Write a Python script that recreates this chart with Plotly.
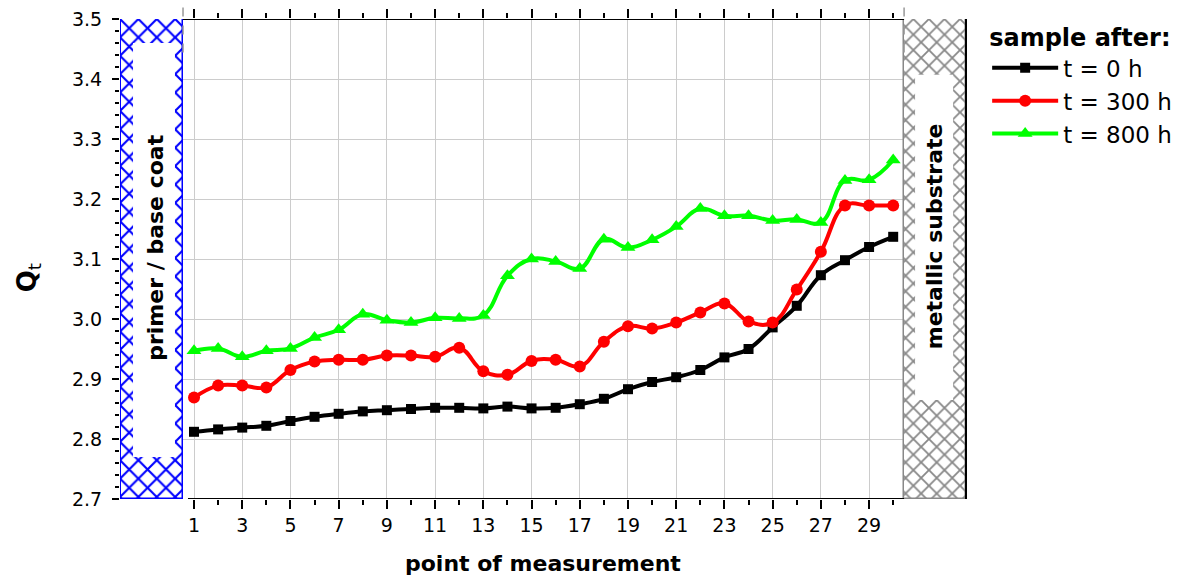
import plotly.graph_objects as go

# ---------------- data ----------------
points = list(range(1, 31))
t0_h = [2.812, 2.816, 2.819, 2.822, 2.830, 2.837, 2.842, 2.846, 2.848, 2.850,
        2.852, 2.852, 2.851, 2.854, 2.851, 2.852, 2.858, 2.867, 2.883, 2.895,
        2.903, 2.915, 2.936, 2.950, 2.986, 3.022, 3.073, 3.098, 3.120, 3.137]
t300_h = [2.869, 2.889, 2.889, 2.886, 2.915, 2.929, 2.932, 2.932, 2.939, 2.939,
          2.937, 2.952, 2.913, 2.907, 2.930, 2.932, 2.921, 2.962, 2.988, 2.984,
          2.994, 3.011, 3.026, 2.996, 2.994, 3.049, 3.112, 3.189, 3.189, 3.189]
t800_h = [2.947, 2.951, 2.937, 2.947, 2.951, 2.969, 2.982, 3.008, 2.998, 2.994,
          3.002, 3.001, 3.006, 3.072, 3.100, 3.096, 3.084, 3.133, 3.119, 3.132,
          3.154, 3.184, 3.172, 3.172, 3.164, 3.166, 3.161, 3.231, 3.232, 3.265]
series_names = ["t = 0 h", "t = 300 h", "t = 800 h"]
x_tick_vals = list(range(1, 30, 2))
x_minor_vals = list(range(2, 31, 2))
top_marks = [1, 2, 3, 4, 5]
zone_labels = ["primer / base coat", "metallic substrate"]
x_title = "point of measurement"
y_title = "<b>Q</b><sub>t</sub>"

# ---------------- layout geometry ----------------
X_RANGE = [-2.07, 33.02]
Y_RANGE = [2.7, 3.5]
primer_zone = (-2.03, 0.544)
primer_inner = (-1.53, 0.21, 2.770, 3.46)
metal_zone = (30.452, 33.0)
metal_inner = (30.908, 32.485, 2.865, 3.407)

FONT = "DejaVu Sans"

fig = go.Figure()

# hatched zones (bars with pattern)
fig.add_trace(go.Bar(
    x=[(primer_zone[0] + primer_zone[1]) / 2], y=[Y_RANGE[1] - Y_RANGE[0]],
    base=[Y_RANGE[0]], width=[primer_zone[1] - primer_zone[0]],
    marker=dict(color="white", line=dict(color="#0000ff", width=1.5),
                pattern=dict(shape="x", fgcolor="#0000ff", bgcolor="white",
                             fgopacity=1, size=13, solidity=0.3)),
    showlegend=False, hoverinfo="skip", cliponaxis=False))
fig.add_trace(go.Bar(
    x=[(metal_zone[0] + metal_zone[1]) / 2], y=[Y_RANGE[1] - Y_RANGE[0]],
    base=[Y_RANGE[0]], width=[metal_zone[1] - metal_zone[0]],
    marker=dict(color="white", line=dict(color="#888888", width=1.5),
                pattern=dict(shape="x", fgcolor="#888888", bgcolor="white",
                             fgopacity=1, size=11, solidity=0.3)),
    showlegend=False, hoverinfo="skip", cliponaxis=False))

styles = [("#000000", "square", 10), ("#ff0000", "circle", 12), ("#00ff00", "triangle-up", 13)]
for name, vals, (col, sym, sz) in zip(series_names, [t0_h, t300_h, t800_h], styles):
    fig.add_trace(go.Scatter(
        x=points, y=vals, name=name, mode="lines+markers",
        line=dict(color=col, width=4, shape="spline", smoothing=1.2),
        marker=dict(color=col, symbol=sym, size=sz),
        cliponaxis=False))

# small marks above the frame
fig.add_trace(go.Scatter(
    x=top_marks, y=[3.524] * len(top_marks), mode="markers",
    marker=dict(symbol="triangle-down", size=8, color="black"),
    showlegend=False, cliponaxis=False, hoverinfo="skip"))

shapes = [
    # inner white panels
    dict(type="rect", xref="x", yref="y", x0=primer_inner[0], x1=primer_inner[1],
         y0=primer_inner[2], y1=primer_inner[3], fillcolor="white", line=dict(width=0)),
    dict(type="rect", xref="x", yref="y", x0=metal_inner[0], x1=metal_inner[1],
         y0=metal_inner[2], y1=metal_inner[3], fillcolor="white", line=dict(width=0)),
    # frame lines
    dict(type="line", xref="x", yref="y", x0=primer_zone[1], x1=metal_zone[0],
         y0=Y_RANGE[1], y1=Y_RANGE[1], line=dict(color="black", width=2)),
    dict(type="line", xref="x", yref="y", x0=0.75, x1=metal_zone[0],
         y0=Y_RANGE[0], y1=Y_RANGE[0], line=dict(color="black", width=2)),
    dict(type="line", xref="paper", yref="y", x0=1, x1=1,
         y0=Y_RANGE[0], y1=Y_RANGE[1], line=dict(color="black", width=2)),
    # dashed boundaries above the frame
    dict(type="line", xref="x", yref="paper", x0=primer_zone[1], x1=primer_zone[1],
         y0=0.93, y1=1.04, line=dict(color="#999999", width=1.5, dash="dash")),
    dict(type="line", xref="x", yref="paper", x0=metal_zone[0], x1=metal_zone[0],
         y0=0.93, y1=1.04, line=dict(color="#999999", width=1.5, dash="dash")),
]

annotations = [
    dict(x=(primer_inner[0] + primer_inner[1]) / 2 + 0.05, y=3.119, xref="x", yref="y",
         text="<b>" + zone_labels[0] + "</b>", textangle=-90, showarrow=False,
         font=dict(family=FONT, size=22, color="black")),
    dict(x=(metal_inner[0] + metal_inner[1]) / 2, y=3.138, xref="x", yref="y",
         text="<b>" + zone_labels[1] + "</b>", textangle=-90, showarrow=False,
         font=dict(family=FONT, size=22, color="black")),
    # axis titles
    dict(x=0.5, y=-0.134, xref="paper", yref="paper", xanchor="center", yanchor="middle",
         text="<b>" + x_title + "</b>", showarrow=False,
         font=dict(family=FONT, size=22, color="black")),
    dict(x=-0.1087, y=0.46, xref="paper", yref="paper", xanchor="center", yanchor="middle",
         text=y_title, textangle=-90, showarrow=False,
         font=dict(family=FONT, size=26, color="black")),
]

fig.update_layout(
    width=1191, height=580,
    margin=dict(l=120, r=225, t=19, b=81),
    paper_bgcolor="white", plot_bgcolor="white",
    barmode="overlay", bargap=0,
    shapes=shapes, annotations=annotations,
    font=dict(family=FONT, color="black"),
    legend=dict(
        x=1.025, y=1.008, xanchor="left", yanchor="top",
        title=dict(text="<b>sample after:</b>", font=dict(family=FONT, size=24)),
        font=dict(family=FONT, size=23, color="black"),
        itemwidth=66, tracegroupgap=0, bgcolor="rgba(0,0,0,0)"),
    xaxis=dict(
        range=X_RANGE, tickmode="array", tickvals=x_tick_vals,
        ticks="outside", ticklen=9, tickwidth=1.5, tickcolor="black",
        mirror="ticks", showline=False, zeroline=False, automargin=False,
        showgrid=True, gridcolor="#cccccc", gridwidth=1,
        tickfont=dict(family=FONT, size=19, color="black"),
        minor=dict(tickmode="array", tickvals=x_minor_vals, ticks="outside",
                   ticklen=5, tickwidth=1.5, tickcolor="black", showgrid=False),
    ),
    yaxis=dict(
        range=Y_RANGE, tick0=2.7, dtick=0.1, tickformat=".1f",
        ticks="outside", ticklen=7, tickwidth=1.5, tickcolor="black",
        showline=False, zeroline=False, automargin=False,
        showgrid=True, gridcolor="#cccccc", gridwidth=1,
        tickfont=dict(family=FONT, size=19, color="black"),
        ticklabelstandoff=6,
        minor=dict(dtick=0.02, ticks="outside", ticklen=4, tickwidth=1.5,
                   tickcolor="black", showgrid=False),
    ),
)

fig.write_html("out.html")
